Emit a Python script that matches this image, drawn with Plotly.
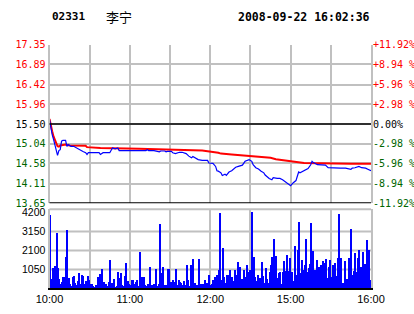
import plotly.graph_objects as go

# ---------------- data ----------------
stock_code = "02331"
stock_name = "李宁"
timestamp = "2008-09-22 16:02:36"
prev_close = 15.50

# minutes since 10:00 (trading minutes; lunch break removed)
price_min = [0, 1, 2, 3, 4, 5, 6, 7, 8, 9, 10, 12, 13, 14, 16, 18, 20, 22, 25, 27, 28, 29,
             37, 38, 40, 45, 46, 47, 49, 51, 52, 72, 73, 74, 78, 80, 82, 83, 86, 87, 88, 91,
             92, 94, 97, 99, 102, 104, 106, 107, 109, 111, 114, 118, 119, 122, 124, 125, 126,
             128, 129, 131, 132, 134, 136, 139, 141, 144, 146, 148, 149, 151, 152, 154, 156,
             158, 160, 161, 164, 166, 167, 170, 172, 174, 177, 178, 180, 182, 184, 185, 186,
             187, 189, 191, 193, 195, 196, 197, 200, 206, 207, 208, 217, 221, 225, 226, 228,
             231, 233, 236, 238, 240]
price_val = [15.60, 15.37, 15.25, 15.14, 15.00, 14.90, 14.77, 14.88, 14.90, 15.10, 15.12, 15.12,
             14.98, 15.02, 14.98, 14.98, 14.94, 14.90, 14.86, 14.83, 14.79, 14.83,
             14.83, 14.79, 14.83, 14.83, 14.90, 14.94, 14.92, 14.94, 14.88, 14.88, 14.90, 14.88,
             14.88, 14.87, 14.85, 14.87, 14.87, 14.85, 14.86, 14.86,
             14.83, 14.81, 14.84, 14.84, 14.81, 14.75, 14.71, 14.74, 14.70, 14.67, 14.65, 14.65,
             14.59, 14.58, 14.51, 14.41, 14.40,
             14.36, 14.30, 14.33, 14.30, 14.38, 14.41, 14.49, 14.51, 14.54, 14.63, 14.67, 14.67,
             14.63, 14.55, 14.48, 14.45,
             14.40, 14.36, 14.31, 14.23, 14.20, 14.25, 14.23, 14.23, 14.20, 14.13, 14.12, 14.06,
             14.13, 14.18, 14.28, 14.38,
             14.36, 14.40, 14.44, 14.46, 14.55, 14.63, 14.60, 14.55, 14.54, 14.51, 14.48, 14.47,
             14.47, 14.44, 14.47, 14.48,
             14.51, 14.48, 14.47, 14.44, 14.41]

avg_min = [0, 1, 2, 3, 4, 5, 6, 7, 8, 10, 12, 15, 27, 28, 38, 67, 93, 114, 126, 128, 136, 148,
           156, 165, 169, 177, 184, 190, 225, 240]
avg_val = [15.62, 15.45, 15.33, 15.21, 15.13, 15.06, 14.98, 14.97, 15.00, 15.01, 15.02, 15.00,
           14.99, 14.96, 14.94, 14.92, 14.90, 14.88, 14.83, 14.81, 14.79, 14.76,
           14.73, 14.71, 14.68, 14.65, 14.62, 14.59, 14.57, 14.57]

volume = [4050, 500, 1100, 600, 1200, 3050, 1100, 500, 250, 350, 600, 600, 1700, 3250, 570, 200,
          100, 600, 650, 300, 150, 400, 850, 250, 750, 650, 250, 400, 650, 450, 200, 250, 100,
          50, 150, 100, 600, 800, 550, 1050, 350, 150, 250, 100, 350, 1550, 300, 100, 500, 50,
          100, 900, 550, 850, 150, 100, 650, 1400, 400, 250, 150, 450, 450, 200, 350, 450, 100,
          2000, 500, 600, 600, 150, 100, 200, 150, 1150, 150, 150, 200, 1050, 100, 250, 3550,
          850, 1150, 150, 150, 150, 1050, 1050, 350, 300, 450, 350, 1050, 150, 450, 350, 300,
          150, 400, 150, 1300, 450, 100, 1300, 900, 1600, 300, 100, 150, 1600, 200, 250, 250,
          200, 450, 300, 200, 700, 150, 250, 450, 600, 250, 750, 1000, 4150, 450, 2250, 600,
          300, 700, 750, 1000, 150, 600, 400, 1000, 700, 1450, 700, 1150, 500, 250, 1000, 600,
          1300, 900, 1000, 300, 4250, 1750, 600, 400, 700, 300, 550, 1450, 650, 300, 1100, 500,
          300, 900, 1300, 1700, 2700, 300, 1800, 550, 850, 900, 250, 900, 1500, 950, 1850, 950,
          1650, 550, 900, 400, 2350, 750, 2100, 3650, 850, 1550, 1000, 1300, 2750, 900, 1100,
          1350, 3600, 2050, 900, 1000, 1550, 950, 1150, 1300, 1100, 1500, 1400, 1600, 550,
          1150, 1550, 600, 1300, 1250, 1400, 650, 1650, 4100, 1650, 300, 300, 1500, 450, 500,
          1650, 400, 3300, 750, 950, 1950, 900, 1650, 2100, 1150, 300, 2000, 1350, 1100, 2650,
          2100, 450, 1750]
vol_min = list(range(len(volume)))

price_ticks = [17.35, 16.89, 16.42, 15.96, 15.50, 15.04, 14.58, 14.11, 13.65]
pct_ticks = [11.92, 8.94, 5.96, 2.98, 0.00, -2.98, -5.96, -8.94, -11.92]
pct_text = ["+11.92%", "+8.94 %", "+5.96 %", "+2.98 %", "0.00%", "-2.98 %", "-5.96 %",
            "-8.94 %", "-11.92%"]
vol_ticks = [1050, 2100, 3150, 4200]
time_ticks = [0, 30, 60, 90, 120, 150, 180, 210, 240]
time_text = ["10:00", "", "11:00", "", "12:00", "", "15:00", "", "16:00"]

# ---------------- styling ----------------
W, H = 414, 314
RED = "#ff0000"
GREEN = "#006600"
GRID = "#c0c0c0"
MONO = "DejaVu Sans Mono"


def px_x(p):
    return p / W


def px_y(p):
    return 1 - p / H


def col(v):
    if v > prev_close + 1e-9:
        return RED
    if v < prev_close - 1e-9:
        return GREEN
    return "#000000"


def pcol(v):
    if v > 1e-9:
        return RED
    if v < -1e-9:
        return GREEN
    return "#000000"


price_text = [f"<span style='color:{col(v)}'>{v:.2f}</span>" for v in price_ticks]
pct_text_c = [f"<span style='color:{pcol(v)}'>{t}</span>" for v, t in zip(pct_ticks, pct_text)]
pct_series = [(v / prev_close - 1) * 100 for v in price_val]

x_dom = [px_x(49.5), px_x(371)]
main_dom = [px_y(203.3), px_y(44.7)]
vol_dom = [px_y(288.3), px_y(209.3)]

fig = go.Figure()
fig.add_trace(go.Scatter(x=avg_min, y=avg_val, mode="lines", line=dict(color=RED, width=2),
                         xaxis="x", yaxis="y", hoverinfo="skip", showlegend=False))
fig.add_trace(go.Scatter(x=price_min, y=price_val, mode="lines", line=dict(color="#0000ff", width=1.2),
                         xaxis="x", yaxis="y", hoverinfo="skip", showlegend=False))
fig.add_trace(go.Scatter(x=price_min, y=pct_series, mode="lines", line=dict(color="rgba(0,0,0,0)", width=0),
                         xaxis="x", yaxis="y3", hoverinfo="skip", showlegend=False))
fig.add_trace(go.Bar(x=vol_min, y=volume, width=0.75, marker=dict(color="#0000ff", line=dict(width=0)),
                     xaxis="x2", yaxis="y2", hoverinfo="skip", showlegend=False))

shapes = [
    dict(type="line", xref="x domain", yref="y", x0=0, x1=1, y0=prev_close, y1=prev_close,
         line=dict(color="black", width=1.5)),
    dict(type="line", xref="x domain", yref="y", x0=0, x1=1, y0=price_ticks[-1], y1=price_ticks[-1],
         line=dict(color="black", width=2)),
    dict(type="line", xref="x2 domain", yref="y2 domain", x0=0, x1=1, y0=1, y1=1,
         line=dict(color=GRID, width=2)),
]
for v in vol_ticks[:-1]:
    shapes.append(dict(type="line", xref="x2 domain", yref="y2", x0=0, x1=1, y0=v, y1=v,
                       line=dict(color=GRID, width=2), layer="below"))

fig.update_layout(
    width=W, height=H, margin=dict(l=0, r=0, t=0, b=0, autoexpand=False),
    paper_bgcolor="white", plot_bgcolor="white", bargap=0, showlegend=False,
    xaxis=dict(domain=x_dom, anchor="y", range=[0, 240], tickvals=time_ticks,
               showticklabels=False, showgrid=True, gridcolor=GRID, gridwidth=2,
               zeroline=False, ticks="", automargin=False),
    yaxis=dict(domain=main_dom, anchor="x", range=[13.65, 17.35], tickvals=price_ticks,
               ticktext=price_text, showgrid=True, gridcolor=GRID, gridwidth=2, zeroline=False,
               showline=True, linecolor=GRID, linewidth=2, ticks="",
               tickfont=dict(family=MONO, size=10), automargin=False),
    yaxis3=dict(overlaying="y", anchor="x", side="right", range=[-11.92, 11.92], tickvals=pct_ticks,
                ticktext=pct_text_c, showgrid=False, zeroline=False, showline=True,
                linecolor=GRID, linewidth=2, ticks="", tickfont=dict(family=MONO, size=10),
                ticklabelstandoff=-2, automargin=False),
    xaxis2=dict(domain=x_dom, anchor="y2", range=[0, 240], tickvals=time_ticks, ticktext=time_text,
                showgrid=True, gridcolor=GRID, gridwidth=2, zeroline=False, showline=True,
                linecolor="black", linewidth=1.5, ticks="", automargin=False,
                tickfont=dict(family="Liberation Sans", size=11, color="black")),
    yaxis2=dict(domain=vol_dom, anchor="x2", range=[0, 4390], tickvals=vol_ticks, showgrid=False,
                zeroline=False, showline=True, mirror=True, linecolor=GRID, linewidth=2, ticks="",
                tickfont=dict(family="Liberation Sans", size=10.5, color="black"), automargin=False),
    shapes=shapes,
    annotations=[
        dict(text=f"<b>{stock_code}</b>", x=px_x(50), y=px_y(16.7), xref="paper", yref="paper",
             xanchor="left", yanchor="middle", showarrow=False,
             font=dict(family=MONO, size=11, color="black")),
        dict(text=stock_name, x=px_x(104), y=px_y(16.7), xref="paper", yref="paper",
             xanchor="left", yanchor="middle", showarrow=False,
             font=dict(family="Noto Sans CJK SC", size=13, color="black")),
        dict(text=f"<b>{timestamp}</b>", x=px_x(236), y=px_y(16.7), xref="paper", yref="paper",
             xanchor="left", yanchor="middle", showarrow=False,
             font=dict(family=MONO, size=11.5, color="black")),
    ],
)

fig.write_html("out.html")
